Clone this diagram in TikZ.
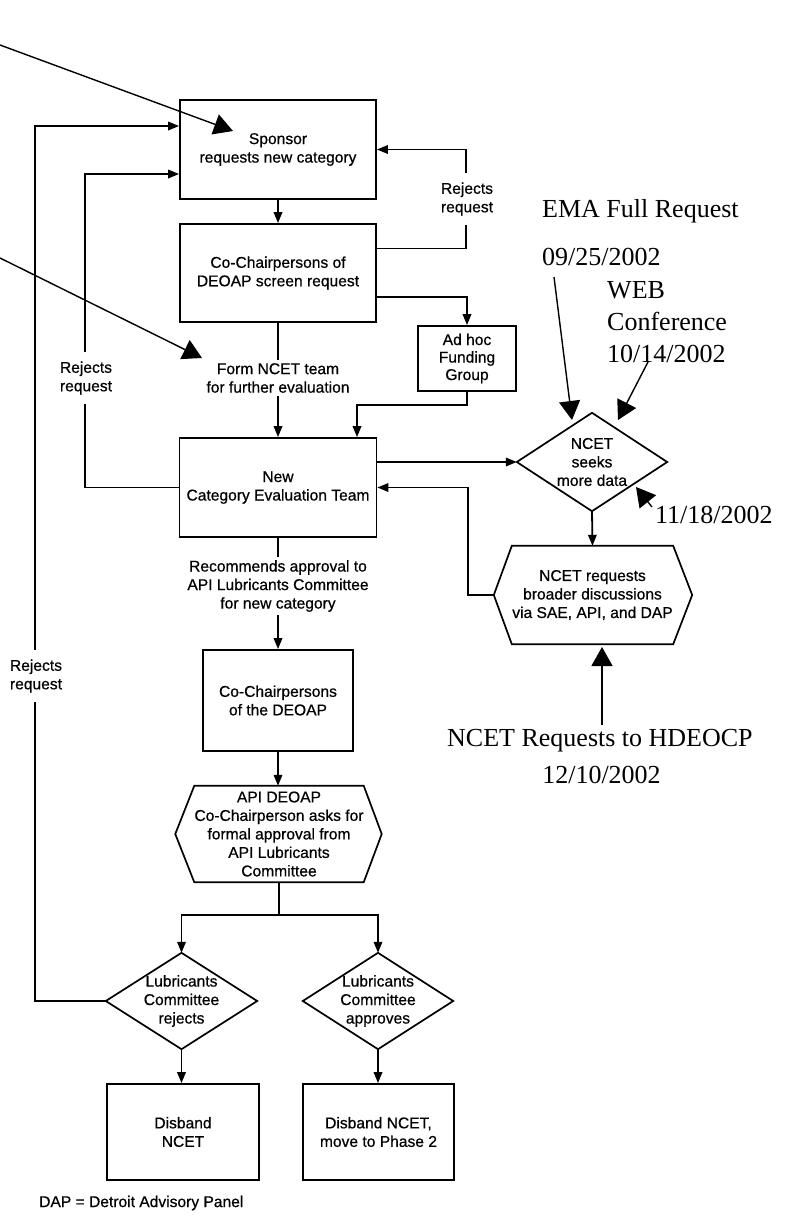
\documentclass[tikz,border=0pt]{standalone}
\usepackage{fontspec}
\usetikzlibrary{arrows.meta}
\newfontfamily\fcfont[FakeBold=0.6]{Liberation Sans}
\newfontfamily\anfont{Liberation Serif}
\begin{document}
\begin{tikzpicture}[x=1pt,y=-1pt,
 fc/.style={font=\fcfont\fontsize{15.6pt}{18.5pt}\selectfont, align=center, inner sep=0pt},
 box/.style={fc, draw, line width=1.8pt},
 ghost/.style={fc},
 shp/.style={line width=1.7pt, line join=miter},
 flow/.style={line width=1.8pt, -{Triangle[length=11pt,width=8.5pt]}},
 plain/.style={line width=1.8pt},
 lbl/.style={fc, fill=white, inner xsep=2pt, inner ysep=9pt},
 an/.style={font=\anfont\fontsize{26pt}{32pt}\selectfont, inner sep=0pt},
 note/.style={line width=1.4pt, -{Triangle[length=19pt,width=21pt]}}
]
\path[fill=white] (0,0) rectangle (785,1221);
\useasboundingbox (0,0) rectangle (785,1221);

% main boxes
\node[box, minimum width=196pt, minimum height=99pt] (sponsor) at (278,149.5) {Sponsor\\requests new category};
\node[box, minimum width=196pt, minimum height=98pt] (chair1) at (278,273) {Co-Chairpersons of\\DEOAP screen request};
\node[box, minimum width=98pt, minimum height=65pt, font=\fcfont\fontsize{15.6pt}{17.5pt}\selectfont] (adhoc) at (467,358.5) {Ad hoc\\Funding\\Group};
\node[fc, inner ysep=3pt] (form) at (278,378) {Form NCET team\\for further evaluation};
\node[box, minimum width=197pt, minimum height=99pt] (ncet) at (278,487.5) {New\\Category Evaluation Team};
\node[fc, inner ysep=3pt] (recom) at (278,586) {Recommends approval to\\API Lubricants Committee\\for new category};
\node[box, minimum width=150pt, minimum height=101pt] (chair2) at (278,700.5) {Co-Chairpersons\\of the DEOAP};
\node[ghost, minimum width=161pt, minimum height=96pt] (api) at (279,834) {API DEOAP\\Co-Chairperson asks for\\formal approval from\\API Lubricants\\Committee};
\node[ghost, minimum width=150pt, minimum height=98pt] (seek) at (592,462) {NCET\\seeks\\more data};
\node[ghost, minimum width=161pt, minimum height=98pt] (broad) at (592.5,595) {NCET requests\\broader discussions\\via SAE, API, and DAP};
\node[ghost, minimum width=151pt, minimum height=96pt] (rej) at (181.5,1001) {Lubricants\\Committee\\rejects};
\node[ghost, minimum width=150pt, minimum height=96pt] (appr) at (378,1001) {Lubricants\\Committee\\approves};
\node[box, minimum width=152pt, minimum height=96pt] (disb1) at (183,1132) {Disband\\NCET};
\node[box, minimum width=151pt, minimum height=96pt] (disb2) at (378.5,1132) {Disband NCET,\\move to Phase 2};
\node[fc, anchor=west] (dap) at (39,1203) {DAP = Detroit Advisory Panel};

% outlines of diamonds and hexagons
\draw[shp] (seek.north) -- (seek.east) -- (seek.south) -- (seek.west) -- cycle;
\draw[shp] (rej.north) -- (rej.east) -- (rej.south) -- (rej.west) -- cycle;
\draw[shp] (appr.north) -- (appr.east) -- (appr.south) -- (appr.west) -- cycle;
\coordinate (broadW) at ([xshift=-18pt]broad.west);
\coordinate (broadE) at ([xshift=19pt]broad.east);
\draw[shp] (broad.north west) -- (broad.north east) -- (broadE) -- (broad.south east) -- (broad.south west) -- (broadW) -- cycle;
\coordinate (apiW) at ([xshift=-19pt]api.west);
\coordinate (apiE) at ([xshift=18pt]api.east);
\draw[shp] (api.north west) -- (api.north east) -- (apiE) -- (api.south east) -- (api.south west) -- (apiW) -- cycle;

% connectors
\draw[flow] (sponsor) -- (chair1);
\draw[flow] ([yshift=24.5pt]chair1.east) -- ++(89,0) |- (sponsor.east);
\draw[flow] ([yshift=-24pt]chair1.east) -| (adhoc.north);
\draw[plain] (chair1) -- (form);
\draw[flow] (form) -- (ncet);
\draw[flow] (adhoc.south) -- ++(0,13) -| ([xshift=79pt]ncet.north);
\draw[flow] ([yshift=25.5pt]ncet.east) -- (seek.west);
\draw[flow] (seek.south) -- (broad.north);
\draw[flow] (broadW) -- ++(-26,0) |- (ncet.east);
\draw[flow] (ncet.west) -- ++(-94,0) |- ([yshift=-24.5pt]sponsor.west);
\draw[flow] (rej.west) -- ++(-71,0) |- ([yshift=23.5pt]sponsor.west);
\draw[plain] (ncet) -- (recom);
\draw[flow] (recom) -- (chair2);
\draw[flow] (chair2.south) -- (chair2.south |- api.north);
\draw[flow] (api.south) -- ++(0,33) -| (rej.north);
\draw[flow] (api.south) -- ++(0,33) -| (appr.north);
\draw[flow] (rej.south) -- (rej.south |- disb1.north);
\draw[flow] (appr.south) -- (appr.south |- disb2.north);

% labels on loops
\node[lbl] (rej1) at (467,199) {Rejects\\request};
\node[lbl] (rej2) at (86,378) {Rejects\\request};
\node[lbl] (rej3) at (36,676) {Rejects\\request};

% annotations
\node[an, anchor=base west] (ema) at (542,217) {EMA Full Request};
\node[an, anchor=base west] (d0925) at (542,265) {09/25/2002};
\node[an, anchor=base west] (web) at (607,298) {WEB};
\node[an, anchor=base west] (conf) at (607,330) {Conference};
\node[an, anchor=base west] (d1014) at (607,362) {10/14/2002};
\node[an, anchor=base west] (d1118) at (655,523) {11/18/2002};
\node[an, anchor=base west] (hdeocp) at (447,746) {NCET Requests to HDEOCP};
\node[an, anchor=base] (d1210) at (601.5,783) {12/10/2002};

\coordinate (a1s) at (0,45);
\coordinate (a1e) at (233,131);
\coordinate (a2s) at (0,258);
\coordinate (a2e) at (202,358);
\coordinate (a3s) at (554,277);
\coordinate (a3e) at (572,420);
\coordinate (a4s) at (648,362);
\coordinate (a4e) at (618,420);
\coordinate (a5s) at (652,507);
\coordinate (a5e) at (636,487);
\coordinate (a6s) at (602,725);
\coordinate (a6e) at (602,647);
\draw[note] (a1s) -- (a1e);
\draw[note] (a2s) -- (a2e);
\draw[note] (a3s) -- (a3e);
\draw[note] (a4s) -- (a4e);
\draw[note] (a5s) -- (a5e);
\draw[note] (a6s) -- (a6e);
\end{tikzpicture}
\end{document}
